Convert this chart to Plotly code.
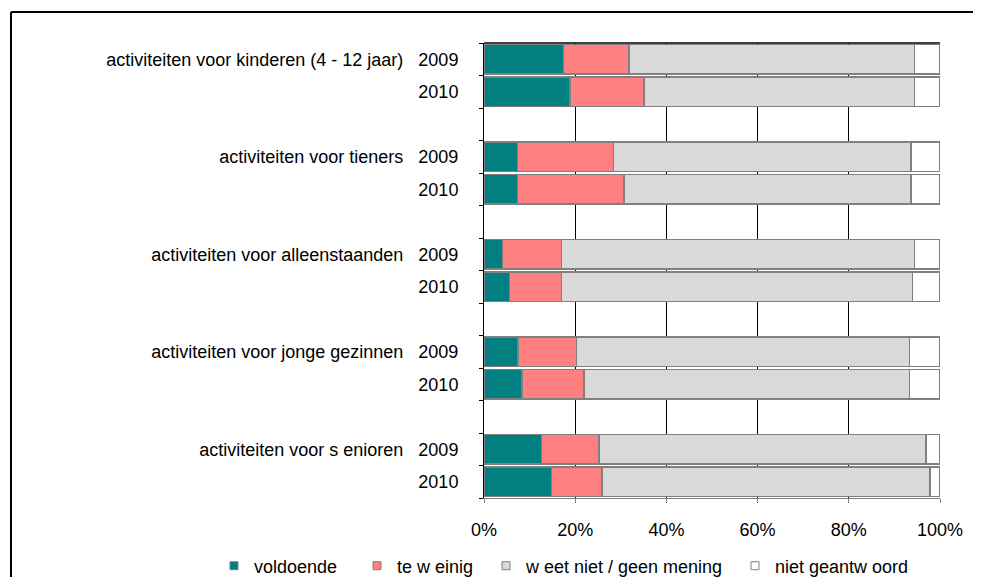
import plotly.graph_objects as go

categories = [
    "activiteiten voor kinderen (4 - 12 jaar)",
    "activiteiten voor tieners",
    "activiteiten voor alleenstaanden",
    "activiteiten voor jonge gezinnen",
    "activiteiten voor s enioren",
]
years = ["2009", "2010"]

series_names = ["voldoende", "te w einig", "w eet niet / geen mening", "niet geantw oord"]
series_colors = ["#008080", "#FF8080", "#D9D9D9", "#FFFFFF"]

# values per category: [2009, 2010]
voldoende = [[17.4, 18.9], [7.4, 7.4], [4.1, 5.6], [7.5, 8.3], [12.6, 14.8]]
te_weinig = [[14.4, 16.2], [21.0, 23.3], [12.9, 11.4], [12.8, 13.6], [12.6, 11.1]]
weet_niet = [[62.6, 59.3], [65.2, 62.9], [77.4, 77.0], [73.0, 71.4], [71.7, 71.9]]
niet_geantwoord = [[5.6, 5.6], [6.4, 6.4], [5.6, 6.0], [6.7, 6.7], [3.1, 2.2]]
series_values = [voldoende, te_weinig, weet_niet, niet_geantwoord]

x_ticks = [0, 20, 40, 60, 80, 100]
x_tick_labels = ["0%", "20%", "40%", "60%", "80%", "100%"]

# layout constants (screen pixels; page body has an 8px margin)
OFF = 8
W, H = 981 - 2 * OFF, 585 - 2 * OFF
L, R, T, B = 484, 940, 43, 498          # plot area in screen pixels
Lf, Rf, Tf, Bf = L - OFF, R - OFF, T - OFF, B - OFF
PW, PH = R - L, B - T

def px_x(px):
    return (px - L) / PW

def px_y(py):
    return (B - py) / PH

# row positions: each group has 2 bars + 1 gap row
rows = []
labels = []
for g, cat in enumerate(categories):
    for j, yr in enumerate(years):
        rows.append(3 * g + j)
        if j == 0:
            labels.append(cat + "\u00a0\u00a0\u00a0" + yr)
        else:
            labels.append(yr)
n_rows = 3 * len(categories) - 1
boundaries = [r - 0.5 for r in range(n_rows + 1)]

font_family = "Liberation Sans, Arial, sans-serif"
fs = 18

fig = go.Figure()
for name, color, vals in zip(series_names, series_colors, series_values):
    flat = [v for pair in vals for v in pair]
    fig.add_trace(go.Bar(
        x=flat, y=rows, orientation="h", name=name,
        marker=dict(color=color, line=dict(color="#808080", width=1.5)),
        width=0.9, showlegend=False, hoverinfo="skip",
    ))

# legend entries (separate legends for Excel-like spacing)
marker_centers = [239, 382, 511, 760]
legend_names = ["legend", "legend2", "legend3", "legend4"]
for name, color, lg in zip(series_names, series_colors, legend_names):
    fig.add_trace(go.Scatter(
        x=[None], y=[None], mode="markers", name=name, legend=lg,
        marker=dict(symbol="square", size=8, color=color,
                    line=dict(color="#808080", width=1)),
        showlegend=True,
    ))

# dummy trace for the boundary tick axis
fig.add_trace(go.Scatter(x=[None], y=[None], yaxis="y2", showlegend=False))

legend_layout = {}
for lg, mc in zip(legend_names, marker_centers):
    legend_layout[lg] = dict(
        x=px_x(mc - 5 - 20), xanchor="left", y=px_y(566), yanchor="middle",
        orientation="h", bgcolor="rgba(0,0,0,0)",
        font=dict(family=font_family, size=fs, color="#000"),
        itemclick=False, itemdoubleclick=False,
    )

fig.update_layout(
    width=W, height=H, autosize=False,
    margin=dict(l=Lf, r=W - Rf, t=Tf, b=H - Bf, pad=0, autoexpand=False),
    paper_bgcolor="white", plot_bgcolor="white",
    barmode="stack", bargap=0.1,
    font=dict(family=font_family, size=fs, color="#000"),
    xaxis=dict(
        range=[0, 100], tickmode="array", tickvals=x_ticks, ticktext=x_tick_labels,
        showgrid=True, gridcolor="#000", gridwidth=1,
        showline=True, linecolor="#808080", linewidth=1,
        ticks="outside", ticklen=4, tickcolor="#808080",
        zeroline=False, ticklabelstandoff=11, fixedrange=True,
    ),
    yaxis=dict(
        range=[n_rows - 0.5, -0.5], tickmode="array", tickvals=rows, ticktext=labels,
        showgrid=False, zeroline=False, showline=True,
        linecolor="#000", linewidth=1, ticks="", ticklabelstandoff=21,
        fixedrange=True,
    ),
    yaxis2=dict(
        overlaying="y", side="left", range=[n_rows - 0.5, -0.5],
        tickmode="array", tickvals=boundaries, showticklabels=False, ticks="outside",
        ticklen=4, tickcolor="#000", showgrid=False, zeroline=False,
        showline=False, fixedrange=True,
    ),
    shapes=[
        dict(type="line", xref="paper", yref="paper", x0=0, x1=1, y0=1, y1=1,
             line=dict(color="#000", width=1.5)),
        dict(type="line", xref="paper", yref="paper",
             x0=px_x(11), x1=px_x(11), y0=px_y(700), y1=px_y(12),
             line=dict(color="#000", width=2)),
        dict(type="line", xref="paper", yref="paper",
             x0=px_x(11), x1=px_x(1100), y0=px_y(12), y1=px_y(12),
             line=dict(color="#000", width=2)),
    ],
    **legend_layout,
)

fig.write_html("out.html")
